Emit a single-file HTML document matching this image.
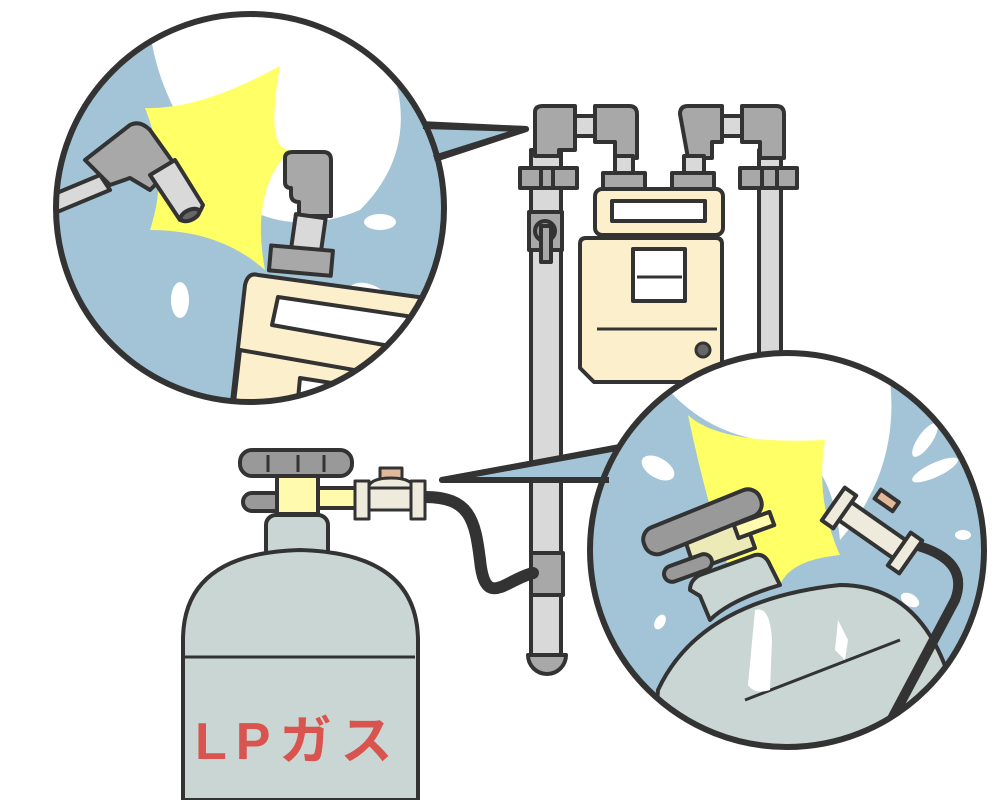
<!DOCTYPE html>
<html><head><meta charset="utf-8"><style>html,body{margin:0;padding:0;background:#fff}svg{display:block}</style></head>
<body>
<svg width="1000" height="800" viewBox="0 0 1000 800" xmlns="http://www.w3.org/2000/svg">
<defs>
<clipPath id="c1"><circle cx="250" cy="208" r="194"/></clipPath>
<clipPath id="c2"><circle cx="787" cy="550" r="197"/></clipPath>
</defs>
<g stroke="#333" stroke-width="4" stroke-linejoin="round">
<rect x="531" y="150" width="30" height="505" fill="#d9d9d9"/>
<path d="M528 655 h38 a19 19 0 0 1 -38 0z" fill="#a8a8a8"/>
<rect x="531" y="553" width="32" height="42" fill="#a8a8a8"/>
<rect x="529" y="212" width="33" height="38" fill="#a8a8a8"/>
<circle cx="545" cy="231" r="10" fill="#999"/>
<rect x="541" y="226" width="10" height="36" fill="#a8a8a8"/>
<rect x="575" y="116" width="22" height="20" fill="#d9d9d9"/>
<path d="M535 112 q0-6 8-6 h32 v44 h-16 v6 h-24z" fill="#a8a8a8"/>
<path d="M595 106 h34 q8 0 8 8 v44 h-22 v-16 h-20z" fill="#a8a8a8"/>
<rect x="615" y="156" width="18" height="18" fill="#d9d9d9"/>
<rect x="520" y="168" width="57" height="20" fill="#a8a8a8"/>
<line x1="541" y1="168" x2="541" y2="188"/><line x1="553" y1="168" x2="553" y2="188"/>
<rect x="759" y="150" width="22" height="210" fill="#d9d9d9"/>
<rect x="721" y="116" width="22" height="20" fill="#d9d9d9"/>
<path d="M680 114 q0-8 8-8 h34 v36 h-10 v16 h-24 z" fill="#a8a8a8"/>
<path d="M742 106 h34 q8 0 8 8 v44 h-24 v-16 h-18z" fill="#a8a8a8"/>
<rect x="684" y="156" width="20" height="18" fill="#d9d9d9"/>
<rect x="740" y="168" width="57" height="20" fill="#a8a8a8"/>
<line x1="762" y1="168" x2="762" y2="188"/><line x1="777" y1="168" x2="777" y2="188"/>
<rect x="603" y="173" width="42" height="16" fill="#a8a8a8"/>
<rect x="672" y="173" width="42" height="16" fill="#a8a8a8"/>
<rect x="595" y="189" width="128" height="46" rx="7" fill="#fbefcc"/>
<rect x="612" y="201" width="93" height="20" fill="#fff"/>
<path d="M602 238 h114 q6 0 6 6 v124 l-14 14 h-114 l-14-14 v-124 q0-6 6-6z" fill="#fbefcc"/>
<rect x="633" y="249" width="52" height="52" fill="#fff"/>
<line x1="637" y1="277" x2="682" y2="277" stroke-width="3"/>
<line x1="597" y1="329" x2="717" y2="329" stroke-width="3"/>
<circle cx="703" cy="350" r="7" fill="#666" stroke-width="3"/>
<path d="M425 497 C470 497 475 520 480 560 C485 610 505 580 533 573" fill="none" stroke="#333" stroke-width="12" stroke-linecap="round"/>
<rect x="266" y="515" width="62" height="45" rx="10" fill="#c9d6d4"/>
<path d="M183 800 V640 Q183 553 300 550 Q417 553 418 640 V800z" fill="#c9d6d4"/>
<line x1="185" y1="657" x2="415" y2="657" stroke-width="3"/>
<rect x="318" y="488" width="40" height="20" fill="#fffaad"/>
<rect x="243" y="493" width="40" height="18" rx="9" fill="#999"/>
<rect x="277" y="474" width="41" height="40" fill="#fffaad"/>
<rect x="240" y="450" width="112" height="26" rx="12" fill="#999"/>
<line x1="268" y1="455" x2="268" y2="472" stroke-width="3"/><line x1="298" y1="455" x2="298" y2="472" stroke-width="3"/><line x1="324" y1="455" x2="324" y2="472" stroke-width="3"/>
<rect x="380" y="468" width="22" height="11" fill="#e2b89a" stroke-width="3"/>
<path d="M368 490 q0-12 23-12 q23 0 23 12z" fill="#efebdc" stroke-width="3"/>
<rect x="365" y="488" width="50" height="22" fill="#efebdc" stroke-width="3"/>
<rect x="355" y="481" width="14" height="38" fill="#efebdc" stroke-width="3"/>
<rect x="411" y="481" width="14" height="38" fill="#efebdc" stroke-width="3"/>
</g>
<text x="195" y="759" font-family="'Liberation Sans','Noto Sans CJK JP',sans-serif" font-size="52" font-weight="bold" fill="#d9534f" letter-spacing="9">LPガス</text>

<path d="M420 124 L526 129 L432 160z" fill="#a3c4d6" stroke="#333" stroke-width="6" stroke-linejoin="round"/>
<circle cx="250" cy="208" r="194" fill="#a3c4d6"/>
<g clip-path="url(#c1)">
<path d="M150 30 Q220 -20 380 40 Q430 140 360 210 Q300 235 250 210 Q160 120 150 30z" fill="#fff"/>
<path d="M145 108 Q200 110 280 66 Q265 150 290 150 Q250 190 265 270 Q220 230 150 230 Q170 170 145 108z" fill="#ffff66"/>
<ellipse cx="180" cy="300" rx="9" ry="18" fill="#fff"/>
<ellipse cx="380" cy="222" rx="16" ry="8" fill="#fff"/>
<ellipse cx="370" cy="297" rx="22" ry="12" fill="#fff" transform="rotate(25 370 297)"/>
<g stroke="#333" stroke-width="4" stroke-linejoin="round">
<path d="M40 200 L100 175 L110 190 L50 215z" fill="#d9d9d9"/>
<path d="M85 160 L130 125 Q140 120 150 130 L175 165 L150 190 L130 178 L110 185 Z" fill="#a8a8a8"/>
<path d="M150 175 L175 160 L203 205 Q195 225 180 220z" fill="#d9d9d9"/>
<ellipse cx="190" cy="215" rx="10" ry="5" fill="#666" transform="rotate(-25 190 215)"/>
<path d="M285 158 q0-6 8-6 h30 q8 0 8 8 v56 h-32 v-14 q-8 0 -8-8 v-6 q-6 0 -6-6z" fill="#a8a8a8"/>
<rect x="293" y="216" width="30" height="40" fill="#d9d9d9" transform="rotate(8 308 236)"/>
<rect x="270" y="248" width="62" height="25" fill="#a8a8a8" transform="rotate(5 300 260)"/>
<path d="M258 275 L440 300 L440 420 L230 420 L245 285 Q248 272 258 275z" fill="#fbefcc"/>
<path d="M278 297 L420 318 L412 350 L272 325z" fill="#fff"/>
<path d="M240 350 L440 385 L440 420 L232 420z" fill="#fbefcc"/>
<path d="M300 378 L440 400 L440 420 L296 420z" fill="#fff"/>
</g>
</g>
<circle cx="250" cy="208" r="194" fill="none" stroke="#333" stroke-width="6"/>
<path d="M423 126 L526 129 L434 158" fill="none" stroke="#333" stroke-width="6" stroke-linejoin="round"/>

<path d="M620 447 L442 480 L612 480z" fill="#a3c4d6" stroke="#333" stroke-width="6" stroke-linejoin="round"/>
<circle cx="787" cy="550" r="197" fill="#a3c4d6"/>
<g clip-path="url(#c2)">
<path d="M660 380 Q780 330 890 380 Q900 470 840 540 Q830 440 760 440 Q700 430 660 380z" fill="#fff"/>
<path d="M688 415 Q720 445 825 440 Q815 500 840 555 Q790 560 780 585 L740 600 Q710 520 688 415z" fill="#ffff66"/>
<ellipse cx="658" cy="468" rx="18" ry="10" fill="#fff" transform="rotate(30 658 468)"/>
<ellipse cx="935" cy="470" rx="25" ry="7" fill="#fff" transform="rotate(-25 935 470)"/>
<ellipse cx="925" cy="440" rx="7" ry="20" fill="#fff" transform="rotate(35 925 440)"/>
<ellipse cx="963" cy="535" rx="8" ry="5" fill="#fff"/>
<ellipse cx="910" cy="600" rx="10" ry="6" fill="#fff" transform="rotate(30 910 600)"/>
<ellipse cx="660" cy="622" rx="5" ry="8" fill="#fff" transform="rotate(30 660 622)"/>
<g stroke="#333" stroke-width="4" stroke-linejoin="round">
<path d="M658 690 Q700 600 840 585 Q920 585 950 680 L1000 800 L650 800z" fill="#c9d6d4"/>
<path d="M700 596 L690 590 Q690 580 700 575 L755 555 Q765 553 770 565 L780 585 Q730 600 710 620z" fill="#c9d6d4"/>
<path d="M745 700 L900 640" fill="none" stroke-width="3"/>
<path d="M695 570 L755 548 L745 520 L685 540z" fill="#ecebb8"/>
<rect x="735" y="518" width="38" height="14" fill="#fffaad" transform="rotate(-20 754 525)"/>
<rect x="663" y="560" width="50" height="16" rx="8" fill="#999" transform="rotate(-20 688 568)"/>
<rect x="640" y="508" width="125" height="28" rx="13" fill="#999" transform="rotate(-22 702 522)"/>
<path d="M915 545 Q970 560 955 600 L870 760" fill="none" stroke="#333" stroke-width="10"/>
<rect x="837" y="519" width="70" height="22" fill="#efebdc" transform="rotate(35 872 530)"/>
<rect x="876" y="495" width="22" height="11" fill="#e2b89a" transform="rotate(35 887 500)"/>
<rect x="832" y="488" width="14" height="40" fill="#efebdc" transform="rotate(35 839 508)"/>
<rect x="898" y="533" width="14" height="40" fill="#efebdc" transform="rotate(35 905 553)"/>
</g>
<path d="M755 610 Q770 605 772 640 L770 690 Q755 695 748 685z" fill="#fff"/>
<path d="M838 620 L848 640 L845 660 L835 650z" fill="#fff"/>
</g>
<circle cx="787" cy="550" r="197" fill="none" stroke="#333" stroke-width="6"/>
<path d="M617 448 L442 480 L609 480" fill="none" stroke="#333" stroke-width="6" stroke-linejoin="round"/>
</svg>
</body></html>
